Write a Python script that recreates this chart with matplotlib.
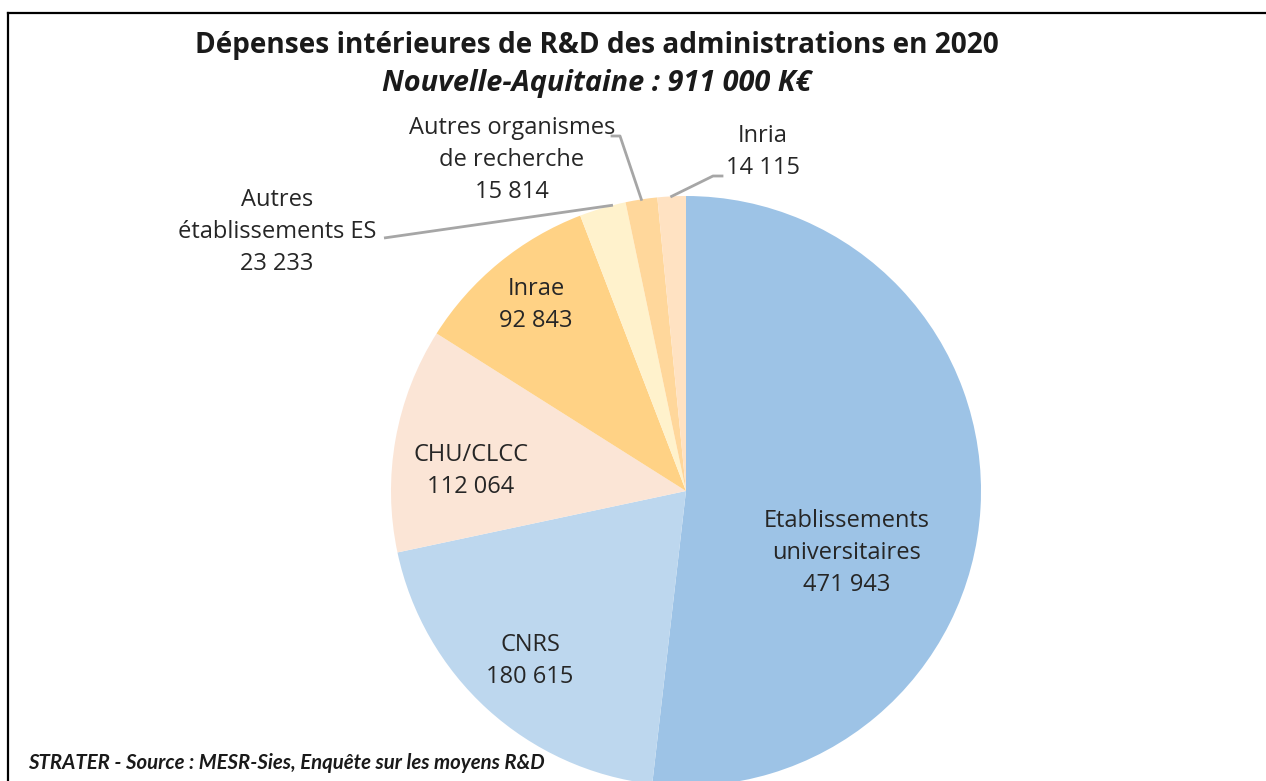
import numpy as np
import matplotlib.pyplot as plt
from matplotlib.lines import Line2D

#### DATA ####
labels = ['Etablissements\nuniversitaires', 'CNRS', 'CHU/CLCC', 'Inrae',
          'Autres\nétablissements ES', 'Autres organismes\nde recherche', 'Inria']
values = [471943, 180615, 112064, 92843, 23233, 15814, 14115]
value_txt = ['471 943', '180 615', '112 064', '92 843', '23 233', '15 814', '14 115']
colors = ['#9DC3E6', '#BDD7EE', '#FBE5D6', '#FFD285', '#FFF2CC', '#FFD79B', '#FFE2C2']

title = 'Dépenses intérieures de R&D des administrations en 2020'
subtitle = 'Nouvelle-Aquitaine : 911 000 K€'
source = 'STRATER - Source : MESR-Sies, Enquête sur les moyens R&D'

W, H = 1266, 781
plt.rcParams['font.family'] = ['Open Sans', 'DejaVu Sans']

fig = plt.figure(figsize=(W / 100, H / 100), dpi=100)
ax = fig.add_axes([0, 0, 1, 1])

# pie in pixel coords (y up)
cx, cy, r = 686, H - 491, 295
wedges, _ = ax.pie(values, colors=colors, startangle=90, counterclock=False,
                   center=(cx, cy), radius=r, wedgeprops=dict(linewidth=0))
ax.set_xlim(0, W)
ax.set_ylim(0, H)
ax.set_aspect('auto')
ax.axis('off')

# label positions (pixels, image coords: x, y of text centre)
pos = [(847, 553), (530, 661), (471, 471), (536, 305), (277, 232), (512, 160), (763, 152)]
for lab, v, (x, y) in zip(labels, value_txt, pos):
    ax.text(x, H - y, f'{lab}\n{v}', ha='center', va='center', fontsize=17,
            color='#262626', linespacing=1.45)

# leader lines for the small slices
def edge_point(w):
    a = np.deg2rad((w.theta1 + w.theta2) / 2)
    return cx + r * np.cos(a), cy + r * np.sin(a)

lc = '#A6A6A6'
a4 = np.deg2rad(wedges[4].theta1 + 2.5)
ax.plot([384, cx + r * np.cos(a4)], [H - 238, cy + r * np.sin(a4)], color=lc, lw=2,
        solid_capstyle='butt')
ex, ey = edge_point(wedges[5])
ax.plot([612, 620, ex], [H - 136, H - 136, ey], color=lc, lw=2)
ex, ey = edge_point(wedges[6])
ax.plot([ex, 713, 722], [ey, H - 176, H - 176], color=lc, lw=2)

# titles
fig.text(597 / W, 1 - 45 / H, title, ha='center', va='center', fontsize=20.2,
         fontweight='bold', color='#1a1a1a')
fig.text(597 / W, 1 - 83 / H, subtitle, ha='center', va='center', fontsize=20.8,
         fontweight='bold', fontstyle='italic', color='#1a1a1a')
fig.text(28 / W, 1 - 763 / H, source, ha='left', va='center', fontsize=14.7,
         fontweight='bold', fontstyle='italic', color='#1a1a1a', family='Lato')

# frame (top and left edges)
fig.add_artist(Line2D([8 / W, 1], [1 - 12.5 / H, 1 - 12.5 / H], color='black', lw=1.6))
fig.add_artist(Line2D([8 / W, 8 / W], [0, 1 - 12.5 / H], color='black', lw=1.6))

fig.savefig('out.png', dpi=100)
